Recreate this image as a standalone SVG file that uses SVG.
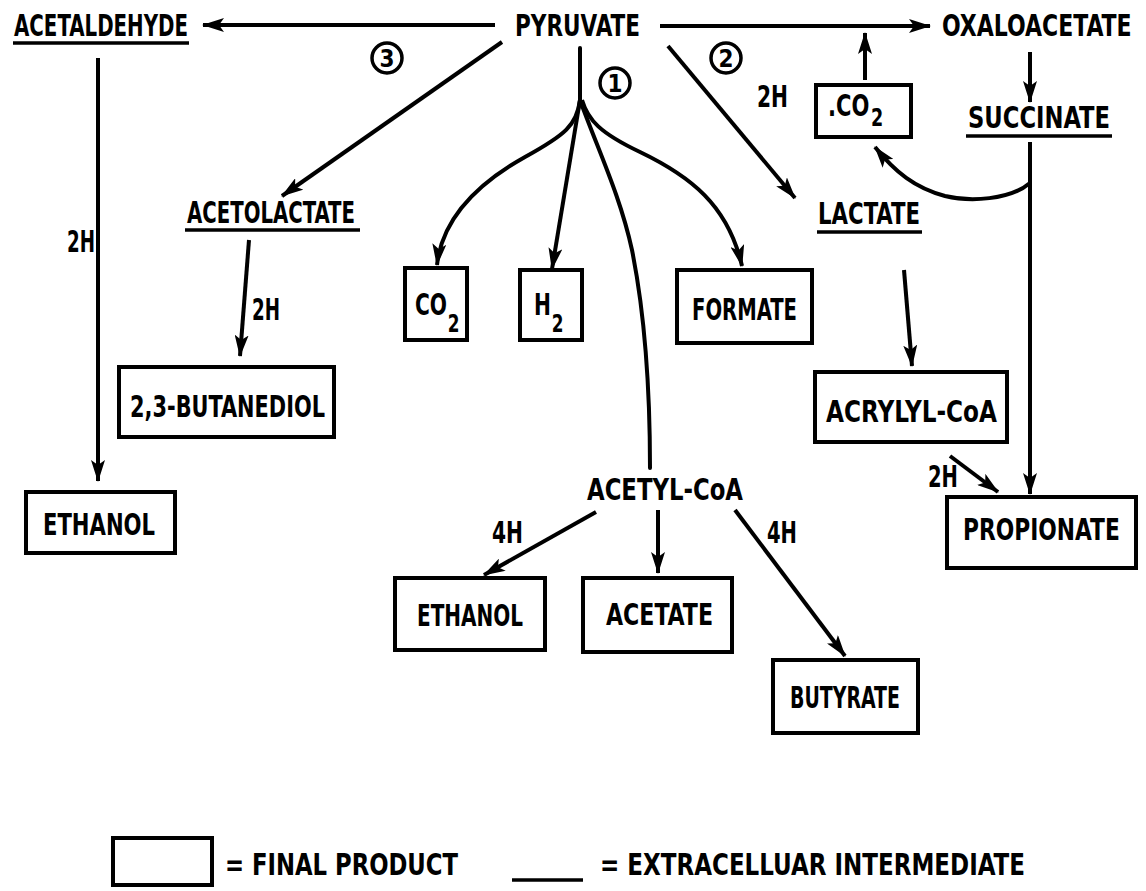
<svg xmlns="http://www.w3.org/2000/svg" width="1146" height="891" viewBox="0 0 1146 891">
<defs>
<marker id="ah" viewBox="0 0 22 14" refX="21" refY="7" markerWidth="22" markerHeight="14" markerUnits="userSpaceOnUse" orient="auto"><path d="M0,0 L22,7 L0,14 L5,7 Z" fill="#000"/></marker>
<style>
text{font-family:"DejaVu Sans Condensed","DejaVu Sans","Liberation Sans",sans-serif;font-weight:bold;font-size:30px;fill:#000}
.sub{font-size:25px}
.num{font-size:24px}
.box{fill:none;stroke:#000;stroke-width:4}
.ul{stroke:#000;stroke-width:3.5}
.c{fill:none;stroke:#000;stroke-width:4;stroke-linecap:round}
.a{fill:none;stroke:#000;stroke-width:4;marker-end:url(#ah)}
.circ{fill:none;stroke:#000;stroke-width:3.5}
</style>
</defs>
<rect width="1146" height="891" fill="#fff"/>
<g id="connectors">
<line class="a" x1="495" y1="25" x2="203" y2="25"/>
<line class="a" x1="660" y1="26" x2="930" y2="26"/>
<line class="a" x1="502" y1="42" x2="282" y2="196"/>
<line class="a" x1="668" y1="46" x2="795" y2="198"/>
<line class="a" x1="98" y1="58" x2="98" y2="481"/>
<line class="a" x1="249" y1="240" x2="240" y2="356"/>
<line class="a" x1="865" y1="80" x2="865" y2="33"/>
<line class="a" x1="1030" y1="52" x2="1030" y2="102"/>
<line class="a" x1="1030" y1="142" x2="1030" y2="494"/>
<path class="a" d="M1030,183 C1010,200 970,202 945,196 C915,188 895,172 875,147"/>
<line class="c" x1="580" y1="48" x2="580" y2="100"/>
<path class="a" d="M580,100 C577,125 565,135 525,157 C475,185 442,220 437,265"/>
<line class="a" x1="580" y1="100" x2="552" y2="269"/>
<path class="c" d="M580,100 C598,150 620,195 632,250 C646,320 650,400 650,468"/>
<path class="a" d="M582,100 C588,120 600,133 640,152 C690,176 728,205 742,266"/>
<line class="a" x1="904" y1="270" x2="912" y2="366"/>
<line class="a" x1="950" y1="456" x2="998" y2="492"/>
<line class="a" x1="596" y1="512" x2="484" y2="575"/>
<line class="a" x1="658" y1="510" x2="658" y2="573"/>
<line class="a" x1="735" y1="510" x2="845" y2="656"/>
</g>
<g id="acetaldehyde"><text x="14" y="36" textLength="174" lengthAdjust="spacingAndGlyphs">ACETALDEHYDE</text><line class="ul" x1="13" y1="43" x2="189" y2="43"/></g>
<g id="pyruvate"><text x="515" y="36" textLength="125" lengthAdjust="spacingAndGlyphs">PYRUVATE</text></g>
<g id="oxaloacetate"><text transform="translate(942,36) scale(0.8,1)" x="0" y="0" textLength="237" lengthAdjust="spacingAndGlyphs">OXALOACETATE</text></g>
<g id="succinate"><text x="968" y="128" textLength="142" lengthAdjust="spacingAndGlyphs">SUCCINATE</text><line class="ul" x1="966" y1="136" x2="1112" y2="136"/></g>
<g id="acetolactate"><text x="187" y="223" textLength="168" lengthAdjust="spacingAndGlyphs">ACETOLACTATE</text><line class="ul" x1="185" y1="230" x2="360" y2="230"/></g>
<g id="lactate"><text x="818" y="224" textLength="102" lengthAdjust="spacingAndGlyphs">LACTATE</text><line class="ul" x1="817" y1="232" x2="922" y2="232"/></g>
<g id="co2-top"><rect class="box" x="816" y="85" width="95" height="52"/><text transform="translate(828,116) scale(0.78,1)" x="0" y="0">.CO<tspan class="sub" dx="2" dy="10">2</tspan></text></g>
<g id="co2"><rect class="box" x="405" y="268" width="62" height="72"/><text transform="translate(415,315) scale(0.75,1)" x="0" y="0">CO<tspan class="sub" dx="1" dy="17">2</tspan></text></g>
<g id="h2"><rect class="box" x="520" y="270" width="62" height="70"/><text transform="translate(534,315) scale(0.75,1)" x="0" y="0">H<tspan class="sub" dx="1" dy="17">2</tspan></text></g>
<g id="formate"><rect class="box" x="677" y="270" width="135" height="73"/><text x="692" y="320" textLength="105" lengthAdjust="spacingAndGlyphs">FORMATE</text></g>
<g id="butanediol"><rect class="box" x="119" y="367" width="215" height="70"/><text x="130" y="417" textLength="195" lengthAdjust="spacingAndGlyphs">2,3-BUTANEDIOL</text></g>
<g id="acrylyl-coa"><rect class="box" x="815" y="372" width="192" height="70"/><text x="826" y="422" textLength="171" lengthAdjust="spacingAndGlyphs">ACRYLYL-CoA</text></g>
<g id="ethanol-left"><rect class="box" x="26" y="492" width="149" height="61"/><text x="43" y="535" textLength="112" lengthAdjust="spacingAndGlyphs">ETHANOL</text></g>
<g id="propionate"><rect class="box" x="947" y="497" width="189" height="71"/><text transform="translate(963,540) scale(0.8,1)" x="0" y="0" textLength="196" lengthAdjust="spacingAndGlyphs">PROPIONATE</text></g>
<g id="acetyl-coa"><text x="587" y="500" textLength="156" lengthAdjust="spacingAndGlyphs">ACETYL-CoA</text></g>
<g id="ethanol-bottom"><rect class="box" x="395" y="578" width="150" height="72"/><text x="417" y="626" textLength="106" lengthAdjust="spacingAndGlyphs">ETHANOL</text></g>
<g id="acetate"><rect class="box" x="583" y="578" width="149" height="74"/><text x="606" y="625" textLength="107" lengthAdjust="spacingAndGlyphs">ACETATE</text></g>
<g id="butyrate"><rect class="box" x="773" y="660" width="145" height="73"/><text x="790" y="708" textLength="110" lengthAdjust="spacingAndGlyphs">BUTYRATE</text></g>
<g id="labels">
<circle class="circ" cx="387" cy="58" r="15"/><text class="num" x="387" y="67" text-anchor="middle">3</text>
<circle class="circ" cx="726" cy="58" r="15"/><text class="num" x="726" y="67" text-anchor="middle">2</text>
<circle class="circ" cx="615" cy="83" r="15"/><text class="num" x="615" y="92" text-anchor="middle">1</text>
<text x="67" y="252" textLength="28" lengthAdjust="spacingAndGlyphs">2H</text>
<text x="252" y="320" textLength="28" lengthAdjust="spacingAndGlyphs">2H</text>
<text x="757" y="107" textLength="31" lengthAdjust="spacingAndGlyphs">2H</text>
<text x="928" y="487" textLength="30" lengthAdjust="spacingAndGlyphs">2H</text>
<text x="492" y="543" textLength="31" lengthAdjust="spacingAndGlyphs">4H</text>
<text x="767" y="543" textLength="30" lengthAdjust="spacingAndGlyphs">4H</text>
</g>
<g id="legend">
<rect class="box" x="113" y="838" width="99" height="47"/>
<text x="225" y="875" textLength="233" lengthAdjust="spacingAndGlyphs">= FINAL PRODUCT</text>
<line class="ul" x1="512" y1="880" x2="583" y2="880"/>
<text x="600" y="875" textLength="425" lengthAdjust="spacingAndGlyphs">= EXTRACELLUAR INTERMEDIATE</text>
</g>
</svg>
